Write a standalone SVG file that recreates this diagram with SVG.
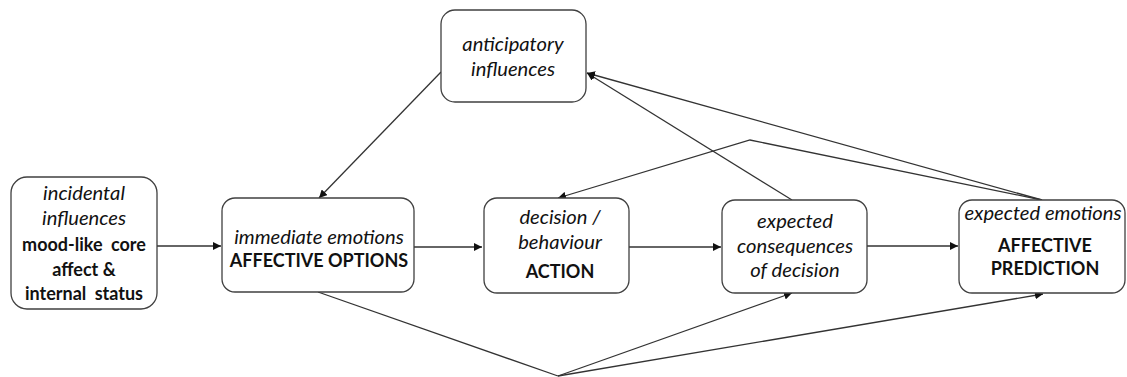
<svg xmlns="http://www.w3.org/2000/svg" width="1127" height="377" viewBox="0 0 1127 377">
<style>
.box{fill:#fff;stroke:#404040;stroke-width:1.3}
.c{fill:none;stroke:#333;stroke-width:1.3}
text{font-family:Lato,"Liberation Sans",sans-serif;font-size:18px;fill:#111;text-anchor:middle}
.i{font-style:italic;font-size:20.2px}
.b{font-weight:bold;font-size:18px}
.w{word-spacing:4px}
</style>
<defs>
<marker id="ah" viewBox="0 0 10 10" refX="10" refY="5" markerWidth="8" markerHeight="8" markerUnits="userSpaceOnUse" orient="auto">
<path d="M0,0 L10,5 L0,10 z" fill="#111"/>
</marker>
</defs>
<g id="connectors">
<line class="c" x1="157" y1="246" x2="221" y2="246" marker-end="url(#ah)"/>
<line class="c" x1="414" y1="247" x2="482" y2="247" marker-end="url(#ah)"/>
<line class="c" x1="629" y1="247" x2="721" y2="247" marker-end="url(#ah)"/>
<line class="c" x1="867" y1="246" x2="958" y2="246" marker-end="url(#ah)"/>
<line class="c" x1="441" y1="72" x2="319" y2="198" marker-end="url(#ah)"/>
<line class="c" x1="792" y1="200" x2="587" y2="73" marker-end="url(#ah)"/>
<line class="c" x1="1042" y1="200" x2="587" y2="73" marker-end="url(#ah)"/>
<polyline class="c" points="1042,200 750,140 558,198" marker-end="url(#ah)"/>
<line class="c" x1="318" y1="292" x2="558" y2="376"/>
<line class="c" x1="558" y1="376" x2="792" y2="293" marker-end="url(#ah)"/>
<line class="c" x1="558" y1="376" x2="1043" y2="294" marker-end="url(#ah)"/>
</g>
<g id="incidental">
<rect class="box" x="11" y="177" width="146" height="132" rx="16"/>
<text class="i" x="84" y="200">incidental</text>
<text class="i" x="84" y="225">influences</text>
<text class="b w" x="84" y="251">mood-like core</text>
<text class="b" x="84" y="276">affect &amp;</text>
<text class="b w" x="84" y="300">internal status</text>
</g>
<g id="immediate">
<rect class="box" x="222" y="198" width="192" height="94" rx="13"/>
<text class="i" x="319" y="244">immediate emotions</text>
<text class="b" x="319" y="267">AFFECTIVE OPTIONS</text>
</g>
<g id="decision">
<rect class="box" x="484" y="198" width="145" height="95" rx="13"/>
<text class="i" x="560" y="224">decision /</text>
<text class="i" x="560" y="249">behaviour</text>
<text class="b" x="560" y="278">ACTION</text>
</g>
<g id="consequences">
<rect class="box" x="722" y="200" width="145" height="93" rx="13"/>
<text class="i" x="795" y="228">expected</text>
<text class="i" x="795" y="253">consequences</text>
<text class="i" x="795" y="277">of decision</text>
</g>
<g id="expected-emotions">
<rect class="box" x="959" y="200" width="166" height="93" rx="13"/>
<text class="i" x="1043" y="220">expected emotions</text>
<text class="b" x="1045" y="252">AFFECTIVE</text>
<text class="b" x="1045" y="275">PREDICTION</text>
</g>
<g id="anticipatory">
<rect class="box" x="441" y="10" width="145" height="92" rx="14"/>
<text class="i" x="513" y="51">anticipatory</text>
<text class="i" x="513" y="76">influences</text>
</g>
</svg>
